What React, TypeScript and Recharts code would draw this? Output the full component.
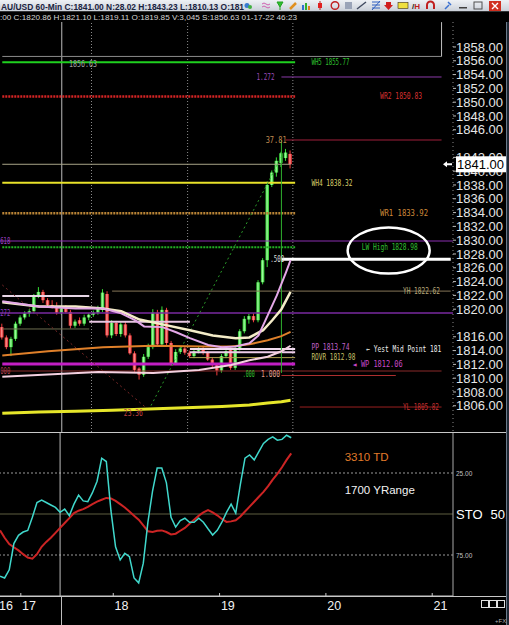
import React from "react";
import {
  ComposedChart,
  Bar,
  Line,
  XAxis,
  YAxis,
  ReferenceLine,
  ReferenceDot,
} from "recharts";

const FONT = "'Liberation Sans', Arial, sans-serif";
const MONO = "'DejaVu Sans Mono', monospace";

// one slot per 60-min bar; trading days start at these slots
const dayLabels = ["16", "17", "18", "19", "20", "21"];
const dayStarts = [0, 5, 25, 48, 71, 94];
const slotCount = 99;

const opens = [
  1817.4, 1815.9, 1814.5, 1815.7, 1817.9, 1818.8, 1819.4, 1819.7, 1821.9, 1822.5,
  1821.3, 1820.6, 1820.4, 1819.5, 1820.1, 1819.6, 1817.6, 1818.4, 1817.9, 1818.8,
  1819.2, 1819.5, 1819.9, 1822.2, 1816.2, 1818.0, 1816.4, 1817.8, 1816.2, 1813.6,
  1811.4, 1810.5, 1813.1, 1814.5, 1819.5, 1814.9, 1819.9, 1815.1, 1812.2, 1813.8,
  1814.3, 1813.7, 1813.2, 1813.9, 1814.3, 1813.7, 1812.7, 1811.9, 1811.1, 1813.2,
  1814.1, 1811.5, 1814.3, 1816.8, 1818.5, 1819.0, 1818.4, 1823.9, 1827.1, 1838.0,
  1839.8, 1841.2, 1841.9, 1842.5,
];
const highs = [
  1817.9, 1816.2, 1816.0, 1818.2, 1819.1, 1819.7, 1820.0, 1822.2, 1823.2, 1822.8,
  1821.6, 1821.3, 1821.0, 1820.5, 1820.6, 1819.9, 1818.5, 1818.8, 1819.2, 1819.4,
  1819.8, 1820.5, 1822.9, 1822.6, 1818.4, 1818.3, 1818.1, 1818.2, 1816.5, 1813.9,
  1811.6, 1813.5, 1815.0, 1820.0, 1819.9, 1820.4, 1820.2, 1815.4, 1814.2, 1814.6,
  1814.6, 1814.0, 1814.2, 1814.6, 1814.6, 1813.9, 1813.0, 1812.2, 1813.5, 1814.2,
  1814.5, 1814.6, 1817.1, 1819.0, 1819.3, 1819.4, 1824.2, 1827.4, 1838.5, 1840.1,
  1842.0, 1842.8, 1843.23, 1843.0,
];
const lows = [
  1815.6, 1814.2, 1813.2, 1815.4, 1817.6, 1818.5, 1818.9, 1819.4, 1821.6, 1820.9,
  1820.4, 1820.1, 1819.2, 1819.2, 1819.4, 1817.2, 1817.3, 1817.6, 1817.6, 1818.4,
  1818.9, 1819.2, 1819.6, 1815.9, 1815.8, 1816.1, 1816.0, 1815.9, 1813.4, 1810.9,
  1809.8, 1810.2, 1812.8, 1814.2, 1814.6, 1814.6, 1814.8, 1811.8, 1811.9, 1813.5,
  1813.4, 1812.9, 1812.9, 1813.6, 1813.4, 1812.5, 1811.6, 1810.4, 1810.8, 1812.9,
  1811.2, 1811.2, 1814.0, 1816.5, 1817.9, 1818.1, 1818.1, 1823.6, 1826.1, 1837.7,
  1839.2, 1840.6, 1841.5, 1840.4,
];
const closes = [
  1815.9, 1814.5, 1815.7, 1817.9, 1818.8, 1819.4, 1819.7, 1821.9, 1822.5, 1821.3,
  1820.6, 1820.4, 1819.5, 1820.1, 1819.6, 1817.6, 1818.2, 1817.9, 1818.8, 1819.2,
  1819.5, 1820.2, 1822.4, 1816.2, 1818.0, 1816.4, 1817.8, 1816.2, 1813.6, 1811.2,
  1810.5, 1813.1, 1814.5, 1819.5, 1814.9, 1819.9, 1815.1, 1812.2, 1813.8, 1814.3,
  1813.7, 1813.2, 1813.9, 1814.3, 1813.7, 1812.7, 1811.9, 1811.1, 1813.2, 1813.9,
  1811.5, 1814.3, 1816.8, 1818.6, 1819.0, 1818.4, 1823.9, 1827.1, 1838.0, 1839.8,
  1841.5, 1842.6, 1842.7, 1841.0,
];

// moving averages, read at a few slots
const yellowSlots = [0, 8, 16, 24, 32, 40, 48, 54, 58, 61, 63];
const yellowVals = [1804.9, 1805.1, 1805.2, 1805.35, 1805.55, 1805.7, 1805.9, 1806.1, 1806.4, 1806.6, 1806.8];
const orangeSlots = [0, 10, 22, 33, 44, 50, 54, 58, 61, 63];
const orangeVals = [1813.3, 1813.9, 1814.5, 1814.7, 1814.6, 1814.6, 1814.9, 1815.5, 1816.1, 1816.7];
const creamSlots = [0, 8, 16, 22, 26, 30, 35, 41, 46, 51, 54, 57, 59, 61, 63];
const creamVals = [1821.0, 1820.4, 1820.4, 1820.1, 1819.7, 1818.5, 1817.8, 1816.95, 1816.2, 1815.8, 1815.9, 1816.95, 1818.4, 1820.0, 1822.5];
const pinkSlots = [0, 8, 16, 22, 26, 29, 31, 35, 38, 41, 45, 48, 51, 54, 56, 58, 60, 62, 63];
const pinkVals = [1821.15, 1820.4, 1820.1, 1820.1, 1819.4, 1818.4, 1817.5, 1817.4, 1816.65, 1815.8, 1814.8, 1814.5, 1814.6, 1815.05, 1816.2, 1819.1, 1822.0, 1825.35, 1827.1];
const paleSlots = [0, 21, 33, 43, 50, 54, 58, 61, 63];
const paleVals = [1810.2, 1810.9, 1810.75, 1811.2, 1811.9, 1812.6, 1813.1, 1813.9, 1814.7];

// stochastic (scale drawn upside down)
const stoK = [
  88, 89, 84, 68, 63, 61, 60, 52, 43, 41.5,
  43, 44.5, 46, 49, 47, 51, 44, 38.5, 42, 42.5,
  37, 30, 16, 18, 48, 70, 78, 74, 76, 89,
  92, 80, 55, 36, 22, 22, 31, 52, 58, 54,
  52.6, 55, 55, 52.6, 55, 59, 62.8, 60, 55, 49,
  44, 49.5, 32, 16, 14, 17, 12, 7, 4.5, 3,
  5, 4.5, 2, 3.5,
];
const stoD = [
  60, 64.5, 68.3, 70.3, 72.2, 74.5, 76.5, 77.2, 74.5, 70,
  67, 64.5, 61.5, 58.5, 55.5, 52.5, 49.5, 48, 47, 45.7,
  44, 42.5, 41.3, 40.2, 40.5, 42, 44, 46, 48.5, 51,
  53.5, 57, 60.5, 61, 60.2, 60, 61, 62.5, 62, 60.2,
  58.5, 56, 53.5, 51, 49, 47.6, 49, 50.8, 53, 54.8,
  54.5, 53.8, 51.5, 48.5, 45.5, 42.5, 39.5, 36.5, 33, 29,
  25.5, 21.5, 17, 13,
];

const priceTicks = [
  1858, 1856, 1854, 1852, 1850, 1848, 1846, 1842, 1840, 1838, 1836, 1834, 1832,
  1830, 1828, 1826, 1824, 1822, 1820, 1816, 1814, 1812, 1810, 1808, 1806,
];
const lastClose = 1841;

const pivotNames = ["WH5", "WR2", "WH4", "WR1", "LW High", "YH", "PP", "ROVR", "WP", "YL"];
const pivotPrices = [1855.77, 1850.83, 1838.32, 1833.92, 1828.98, 1822.62, 1813.74, 1812.98, 1812.06, 1805.82];
const pv = (n: string) => pivotPrices[pivotNames.indexOf(n)];

// hand drawn levels
const levelNames = ["S", "1.272", "37.81", "last", ".618", ".500", ".272", "box1", "box2", "box3", "mid", ".000", "1.000"];
const levelPrices = [1856.63, 1853.65, 1844.52, 1841.0, 1829.88, 1827.23, 1819.45, 1821.91, 1818.19, 1817.13, 1814.23, 1811.04, 1810.39];
const lv = (n: string) => levelPrices[levelNames.indexOf(n)];

const swingSlots = [0, 32, 61];
const swingPrices = [1823.51, 1805.39, 1842.06];
const stemPrices = [1810.75, 1844.52];

const titleText = "AU/USD  60-Min  C:1841.00  N:28.02  H:1843.23  L:1810.13  O:181";
const infoText = ":00  C:1820.86  H:1821.10  L:1819.11  O:1819.85  V:3,045  S:1856.63  01-17-22  46:23";

const rows: any[] = Array.from({ length: slotCount }, (_, i) => ({
  slot: i,
  o: opens[i],
  h: highs[i],
  l: lows[i],
  c: closes[i],
  range: opens[i] != null ? [lows[i], highs[i]] : undefined,
  k: stoK[i],
  d: stoD[i],
  yellow: null,
  orange: null,
  cream: null,
  pink: null,
  pale: null,
}));
const fill = (key: string, slots: number[], vals: number[]) =>
  slots.forEach((s, j) => (rows[s][key] = vals[j]));
fill("yellow", yellowSlots, yellowVals);
fill("orange", orangeSlots, orangeVals);
fill("cream", creamSlots, creamVals);
fill("pink", pinkSlots, pinkVals);
fill("pale", paleSlots, paleVals);

const seg = (a: number, b: number, p: number) => [
  { x: a, y: p },
  { x: b, y: p },
];

const Candle = (props: any) => {
  const { x, y, width, height, payload } = props;
  if (!payload || payload.o == null) return null;
  const top = height >= 0 ? y : y + height;
  const span = Math.abs(height);
  const r = payload.h - payload.l || 1;
  const toY = (v: number) => top + ((payload.h - v) / r) * span;
  const up = payload.c >= payload.o;
  const bodyTop = toY(Math.max(payload.o, payload.c));
  const bodyH = Math.max(1, toY(Math.min(payload.o, payload.c)) - bodyTop);
  const mid = x + width / 2;
  return (
    <g>
      <line x1={mid} x2={mid} y1={top} y2={top + span} stroke={up ? "#35e035" : "#f03a3a"} />
      <rect x={x} y={bodyTop} width={width} height={bodyH} fill={up ? "url(#candleUp)" : "url(#candleDown)"} />
    </g>
  );
};

const PriceTick = (props: any) => {
  const { x, y, payload } = props;
  const v = payload.value as number;
  if (v === lastClose) {
    return (
      <g>
        <path d={`M${x - 10},${y} l4,-3 v2 h5 v2 h-5 v2 z`} fill="#ffffff" />
        <rect x={x + 3} y={y - 8} width={50} height={16} fill="#ffffff" />
        <text x={x + 4} y={y + 5} fill="#000" fontSize={13} fontFamily={FONT}>
          {v.toFixed(2)}
        </text>
      </g>
    );
  }
  return (
    <g>
      <line x1={x} x2={x + 3} y1={y} y2={y} stroke="#bbbbbb" />
      <text x={x + 3} y={y + 4.6} fill="#e6e6e6" fontSize={13} fontFamily={FONT}>
        {v.toFixed(2)}
      </text>
    </g>
  );
};

const StoTick = (props: any) => {
  const { x, y, payload } = props;
  const v = payload.value as number;
  if (v === 50) {
    return (
      <text x={x + 3} y={y + 4.6} fill="#ffffff" fontSize={13} fontFamily={FONT}>
        STO<tspan dx={8}>50,</tspan>
      </text>
    );
  }
  return (
    <text x={x + 3} y={y + 2.5} fill="#c0c0c0" fontSize={6.5} fontFamily={FONT}>
      {v.toFixed(2)}
    </text>
  );
};

const DayTick = (props: any) => {
  const { x, y, payload } = props;
  const i = dayStarts.indexOf(payload.value);
  return (
    <g>
      <line x1={x - 2.3} x2={x - 2.3} y1={y - 3} y2={y} stroke="#c8c8c8" />
      <text x={x - 1} y={y + 13.5} fill="#f2f2f2" fontSize={12.5} fontFamily={FONT}>
        {dayLabels[i]}
      </text>
    </g>
  );
};

const tag = (slot: number, price: number, text: string, color: string, width: number) => (
  <ReferenceDot
    key={text + slot}
    x={slot}
    y={price}
    r={0}
    shape={(p: any) => (
      <text
        x={p.cx - 2}
        y={p.cy + 3}
        fill={color}
        fontSize={8}
        fontFamily={MONO}
        textLength={width}
        lengthAdjust="spacingAndGlyphs"
      >
        {text}
      </text>
    )}
  />
);

function PriceChart() {
  return (
    <ComposedChart width={509} height={432} data={rows} margin={{ top: 22, right: 0, bottom: 0, left: 0 }}>
      <defs>
        <linearGradient id="candleUp" x1="0" y1="0" x2="1" y2="0">
          <stop offset="0" stopColor="#1fb01f" />
          <stop offset="0.45" stopColor="#a0ffa0" />
          <stop offset="1" stopColor="#22c022" />
        </linearGradient>
        <linearGradient id="candleDown" x1="0" y1="0" x2="1" y2="0">
          <stop offset="0" stopColor="#d01c1c" />
          <stop offset="0.45" stopColor="#ff9090" />
          <stop offset="1" stopColor="#d81e1e" />
        </linearGradient>
      </defs>
      <XAxis dataKey="slot" type="category" hide />
      <YAxis
        orientation="right"
        width={56}
        domain={[1802.2, 1861.62]}
        allowDataOverflow
        ticks={[...priceTicks, lastClose]}
        interval={0}
        tickSize={0}
        tickMargin={0}
        tickLine={false}
        axisLine={{ stroke: "#8a8a8a", strokeDasharray: "1 3" }}
        tick={(p: any) => <PriceTick {...p} />}
      />

      {/* time grid */}
      <ReferenceLine x={13} stroke="#bdbdbd" />
      <ReferenceLine x={20} position="start" stroke="#8a8a8a" strokeDasharray="1 2" />
      <ReferenceLine x={41} position="start" stroke="#8a8a8a" strokeDasharray="1 2" />
      <ReferenceLine x={64} position="start" stroke="#8a8a8a" strokeDasharray="1 2" />

      {/* levels */}
      <ReferenceLine segment={seg(0, 96, lv("S"))} stroke="#8c8c8c" />
      <ReferenceLine segment={[{ x: 96, y: lv("S") }, { x: 96, y: 1861.6 }]} stroke="#c0c0c0" />
      <ReferenceLine segment={seg(0, 64, pv("WH5"))} stroke="#1fd01f" strokeWidth={2} />
      <ReferenceLine segment={seg(61, 96, lv("1.272"))} stroke="#8a3aa8" />
      <ReferenceLine segment={seg(0, 64, pv("WR2"))} stroke="#d42424" strokeWidth={2.5} strokeDasharray="2 1" />
      <ReferenceLine segment={seg(62, 96, lv("37.81"))} stroke="#a0203c" />
      <ReferenceLine segment={seg(0, 63, lv("last"))} stroke="#a8a488" />
      <ReferenceLine segment={seg(0, 64, pv("WH4"))} stroke="#e8e22a" strokeWidth={2} />
      <ReferenceLine segment={seg(0, 64, pv("WR1"))} stroke="#b98436" strokeWidth={2.5} strokeDasharray="2 1" />
      <ReferenceLine y={lv(".618")} stroke="#8a2fb0" />
      <ReferenceLine segment={seg(0, 64, pv("LW High"))} stroke="#22b022" strokeWidth={2} strokeDasharray="2 1" />
      <ReferenceLine segment={seg(61, 98, lv(".500"))} stroke="#ffffff" strokeWidth={3} />
      <ReferenceLine segment={seg(24, 98, pv("YH"))} stroke="#857658" />
      <ReferenceLine y={lv(".272")} stroke="#7a2aa0" strokeWidth={1.5} />
      <ReferenceLine segment={seg(0, 19, lv("box1"))} stroke="#e6d6e6" strokeWidth={2} />
      <ReferenceLine segment={seg(0, 19, lv("box3"))} stroke="#6e6e50" />
      <ReferenceLine segment={seg(19, 41, lv("box2"))} stroke="#e8c6e2" strokeWidth={2} />
      <ReferenceLine segment={seg(41, 64, lv("mid"))} stroke="#f2dcef" strokeWidth={2} />
      <ReferenceLine segment={seg(41, 64, pv("PP"))} stroke="#eccbe8" strokeWidth={2} />
      <ReferenceLine segment={seg(41, 64, pv("ROVR"))} stroke="#b4a452" />
      <ReferenceLine segment={seg(0, 64, pv("WP"))} stroke="#c21fc4" strokeWidth={3} />
      <ReferenceLine segment={seg(0, 96, lv(".000"))} stroke="#8a2a2a" />
      <ReferenceLine segment={seg(61, 86, lv("1.000"))} stroke="#b03030" />
      <ReferenceLine segment={seg(65, 96, pv("YL"))} stroke="#9a2020" />

      {/* fib swing */}
      <ReferenceLine
        segment={[{ x: swingSlots[0], y: swingPrices[0] }, { x: swingSlots[1], y: swingPrices[1] }]}
        stroke="#7a2828"
        strokeDasharray="2 3"
      />
      <ReferenceLine
        segment={[{ x: swingSlots[1], y: swingPrices[1] }, { x: swingSlots[2], y: swingPrices[2] }]}
        stroke="#2a9a2a"
        strokeDasharray="2 3"
      />
      <ReferenceLine
        segment={[{ x: swingSlots[2], y: stemPrices[0] }, { x: swingSlots[2], y: stemPrices[1] }]}
        stroke="#2fb02f"
      />

      <Line dataKey="yellow" stroke="#e6e62a" strokeWidth={3} dot={false} connectNulls isAnimationActive={false} />
      <Line dataKey="pale" stroke="#f4d0e0" strokeWidth={2} dot={false} connectNulls isAnimationActive={false} />
      <Line dataKey="orange" stroke="#e0802a" strokeWidth={2} dot={false} connectNulls isAnimationActive={false} />
      <Line dataKey="cream" stroke="#f4ecc8" strokeWidth={2.5} dot={false} connectNulls isAnimationActive={false} />
      <Line dataKey="pink" stroke="#e4a8e8" strokeWidth={2} dot={false} connectNulls isAnimationActive={false} />

      <Bar dataKey="range" barSize={3.6} isAnimationActive={false} shape={(p: any) => <Candle {...p} />} />

      {tag(15, 1855.54, "1856.63", "#a0a0a0", 28)}
      {tag(68, pv("WH5"), "WH5 1855.77", "#2ec02e", 38)}
      {tag(56, lv("1.272"), "1.272", "#9a4ab8", 18)}
      {tag(83, pv("WR2"), "WR2 1850.83", "#d83030", 42)}
      {tag(58, lv("37.81"), "37.81", "#c08a50", 21)}
      {tag(68, pv("WH4"), "WH4 1838.32", "#d8cf6a", 41)}
      {tag(83, pv("WR1"), "WR1 1833.92", "#d08a3a", 48)}
      {tag(0, lv(".618"), "618", "#a040c8", 10)}
      {tag(79, 1829.0, "LW High 1828.98", "#30c030", 56)}
      {tag(59, lv(".500"), ".500", "#dddddd", 14)}
      {tag(88, pv("YH"), "YH 1822.62", "#b8a878", 37)}
      {tag(0, lv(".272"), "272", "#9040c0", 10)}
      {tag(68, 1814.45, "PP 1813.74", "#c060c8", 38)}
      {tag(80, lv("mid"), "← Yest Mid Point 181", "#f0f0f0", 75)}
      {tag(68, 1813.1, "ROVR 1812.98", "#c8c068", 44)}
      {tag(77, pv("WP"), "◄ WP 1812.06", "#c848c8", 50)}
      {tag(0, lv(".000"), "000", "#b04050", 10)}
      {tag(53, 1810.6, ".000", "#30c030", 12)}
      {tag(57, 1810.6, "1.000", "#e0a090", 19)}
      {tag(27, 1804.96, "23.36", "#c04040", 19)}
      {tag(88, pv("YL"), "YL 1805.82", "#c83030", 36)}

      <ReferenceDot
        x={84}
        y={1828.5}
        r={0}
        shape={(p: any) => (
          <ellipse cx={p.cx + 2} cy={p.cy} rx={41} ry={23} fill="none" stroke="#ffffff" strokeWidth={2.5} />
        )}
      />
    </ComposedChart>
  );
}

function StochChart() {
  return (
    <ComposedChart width={509} height={193} data={rows} margin={{ top: 0, right: 0, bottom: 0, left: 0 }}>
      <XAxis
        dataKey="slot"
        type="category"
        ticks={dayStarts}
        interval={0}
        height={29}
        tickSize={0}
        tickMargin={0}
        tickLine={false}
        axisLine={{ stroke: "#c8c8c8" }}
        tick={(p: any) => <DayTick {...p} />}
      />
      <YAxis
        orientation="right"
        width={56}
        domain={[0, 100]}
        reversed
        ticks={[25, 50, 75]}
        interval={0}
        tickSize={0}
        tickMargin={0}
        tickLine={false}
        axisLine={{ stroke: "#a8a8a8" }}
        tick={(p: any) => <StoTick {...p} />}
      />
      <ReferenceLine y={25} stroke="#9a9a9a" strokeDasharray="2 2" />
      <ReferenceLine y={75} stroke="#9a9a9a" strokeDasharray="2 2" />
      <ReferenceLine y={50} stroke="#5e5e40" />
      <ReferenceLine x={13} stroke="#bdbdbd" />
      <Line dataKey="d" stroke="#cc2424" strokeWidth={2} dot={false} isAnimationActive={false} />
      <Line dataKey="k" stroke="#40d8cc" strokeWidth={1.5} dot={false} isAnimationActive={false} />
      <ReferenceDot
        x={75}
        y={15.2}
        r={0}
        shape={(p: any) => (
          <text x={p.cx - 2} y={p.cy + 4} fill="#e07a2a" fontSize={11.5} fontFamily={FONT}>
            3310 TD
          </text>
        )}
      />
      <ReferenceDot
        x={75}
        y={35.4}
        r={0}
        shape={(p: any) => (
          <text x={p.cx - 2} y={p.cy + 4} fill="#f2f2f2" fontSize={11.5} fontFamily={FONT}>
            1700 YRange
          </text>
        )}
      />
    </ComposedChart>
  );
}

function Header() {
  return (
    <svg width={509} height={22} style={{ position: "absolute", left: 0, top: 0 }}>
      <defs>
        <linearGradient id="titleBg" x1="0" y1="0" x2="0" y2="1">
          <stop offset="0" stopColor="#eef1f5" />
          <stop offset="1" stopColor="#c9cfd8" />
        </linearGradient>
      </defs>
      <rect width={509} height={11.5} fill="url(#titleBg)" />
      <text x={1} y={9.6} fontSize={9.6} fontWeight="bold" fill="#1a2340" fontFamily={FONT} textLength={243} lengthAdjust="spacingAndGlyphs">
        {titleText}
      </text>
      {/* toolbar glyphs */}
      <circle cx={247} cy={5.5} r={2.5} fill="#3a7ad0" />
      <circle cx={250} cy={7} r={2} fill="#40b040" />
      <path d="M262,4 q2,-2 4,0 t4,0 M262,7 q2,-2 4,0 t4,0" stroke="#d060b0" fill="none" />
      <path d="M277,2 l6,0 l-3,5 z M280,7 v3" stroke="#20a020" fill="#30c030" />
      <path d="M290,9 l6,-6" stroke="#e09020" strokeWidth={2.5} />
      <rect x={302} y={5} width={2} height={5} fill="#3070d0" />
      <rect x={305} y={3} width={2} height={7} fill="#30b030" />
      <rect x={308} y={6} width={2} height={4} fill="#e08020" />
      <line x1={320} x2={320} y1={1} y2={10} stroke="#c02020" />
      <rect x={318} y={3} width={4} height={5} fill="#e02020" />
      <circle cx={335} cy={5.5} r={3.8} fill="none" stroke="#c02020" strokeWidth={1.4} />
      <rect x={345} y={2} width={7} height={7} fill="#9aa4b8" />
      <line x1={357} y1={9} x2={366} y2={2} stroke="#404a60" strokeWidth={1.4} />
      <path d="M372,2 h8 M372,5 h8 M372,8 h8 M372,10 l8,-9" stroke="#3060c0" />
      <path d="M386,2 h5 v3 h2 l-4.5,5 l-4.5,-5 h2 z" fill="#d02020" />
      <rect x={398} y={2.5} width={10} height={6} fill="#f0e040" stroke="#403010" strokeWidth={0.6} />
      <text x={412} y={9} fontSize={8} fill="#202020" fontFamily={FONT} fontWeight="bold">
        /<tspan fill="#c02020">H</tspan>
      </text>
      <path d="M427,9 v-4 a3.5,3.5 0 0 1 7,0 v4" fill="none" stroke="#c02020" strokeWidth={2} />
      <path d="M445,9 l4,-4 m-1,-3 l3,3" stroke="#3a70d0" strokeWidth={1.5} />
      <rect x={459} y={7} width={8} height={1.5} fill="#404040" />
      <rect x={474} y={2} width={8} height={7} fill="none" stroke="#505050" />
      <rect x={489} y={1} width={12} height={10} fill="#d03020" />
      <path d="M492,3 l6,6 M498,3 l-6,6" stroke="#ffffff" strokeWidth={1.4} />
      <rect y={11.5} width={509} height={10.5} fill="#000" />
      <text x={0} y={19.6} fontSize={8} fill="#d4d4d4" fontFamily={FONT} textLength={297} lengthAdjust="spacingAndGlyphs">
        {infoText}
      </text>
    </svg>
  );
}

export default function App() {
  return (
    <div style={{ position: "relative", width: 509, height: 625, background: "#000", overflow: "hidden" }}>
      <style>{"body{margin:0;background:#000}"}</style>
      <div style={{ position: "absolute", left: 0, top: 0 }}>
        <PriceChart />
      </div>
      <div style={{ position: "absolute", left: 0, top: 432 }}>
        <StochChart />
      </div>
      <Header />
      <div style={{ position: "absolute", left: 0, top: 432, width: 506, height: 1, background: "#c8c8c8" }} />
      <div style={{ position: "absolute", left: 0, top: 596, width: 506, height: 1, background: "#c8c8c8" }} />
      <div style={{ position: "absolute", left: 61, top: 596, width: 1, height: 29, background: "#bdbdbd" }} />
      <div style={{ position: "absolute", left: 506, top: 22, width: 3, height: 603, background: "#1f2834", borderLeft: "1px solid #6b7b8c" }} />
      <svg width={40} height={28} style={{ position: "absolute", left: 469, top: 597 }}>
        <rect x={12.5} y={3.5} width={7} height={7} fill="none" stroke="#e0e0e0" />
        <rect x={20.5} y={3.5} width={7} height={7} fill="none" stroke="#e0e0e0" />
        <rect x={28.5} y={3.5} width={7} height={7} fill="none" stroke="#e0e0e0" />
        <text x={26} y={26} fontSize={6} fill="#b0b0b0" fontFamily={FONT}>
          +FX
        </text>
      </svg>
    </div>
  );
}
